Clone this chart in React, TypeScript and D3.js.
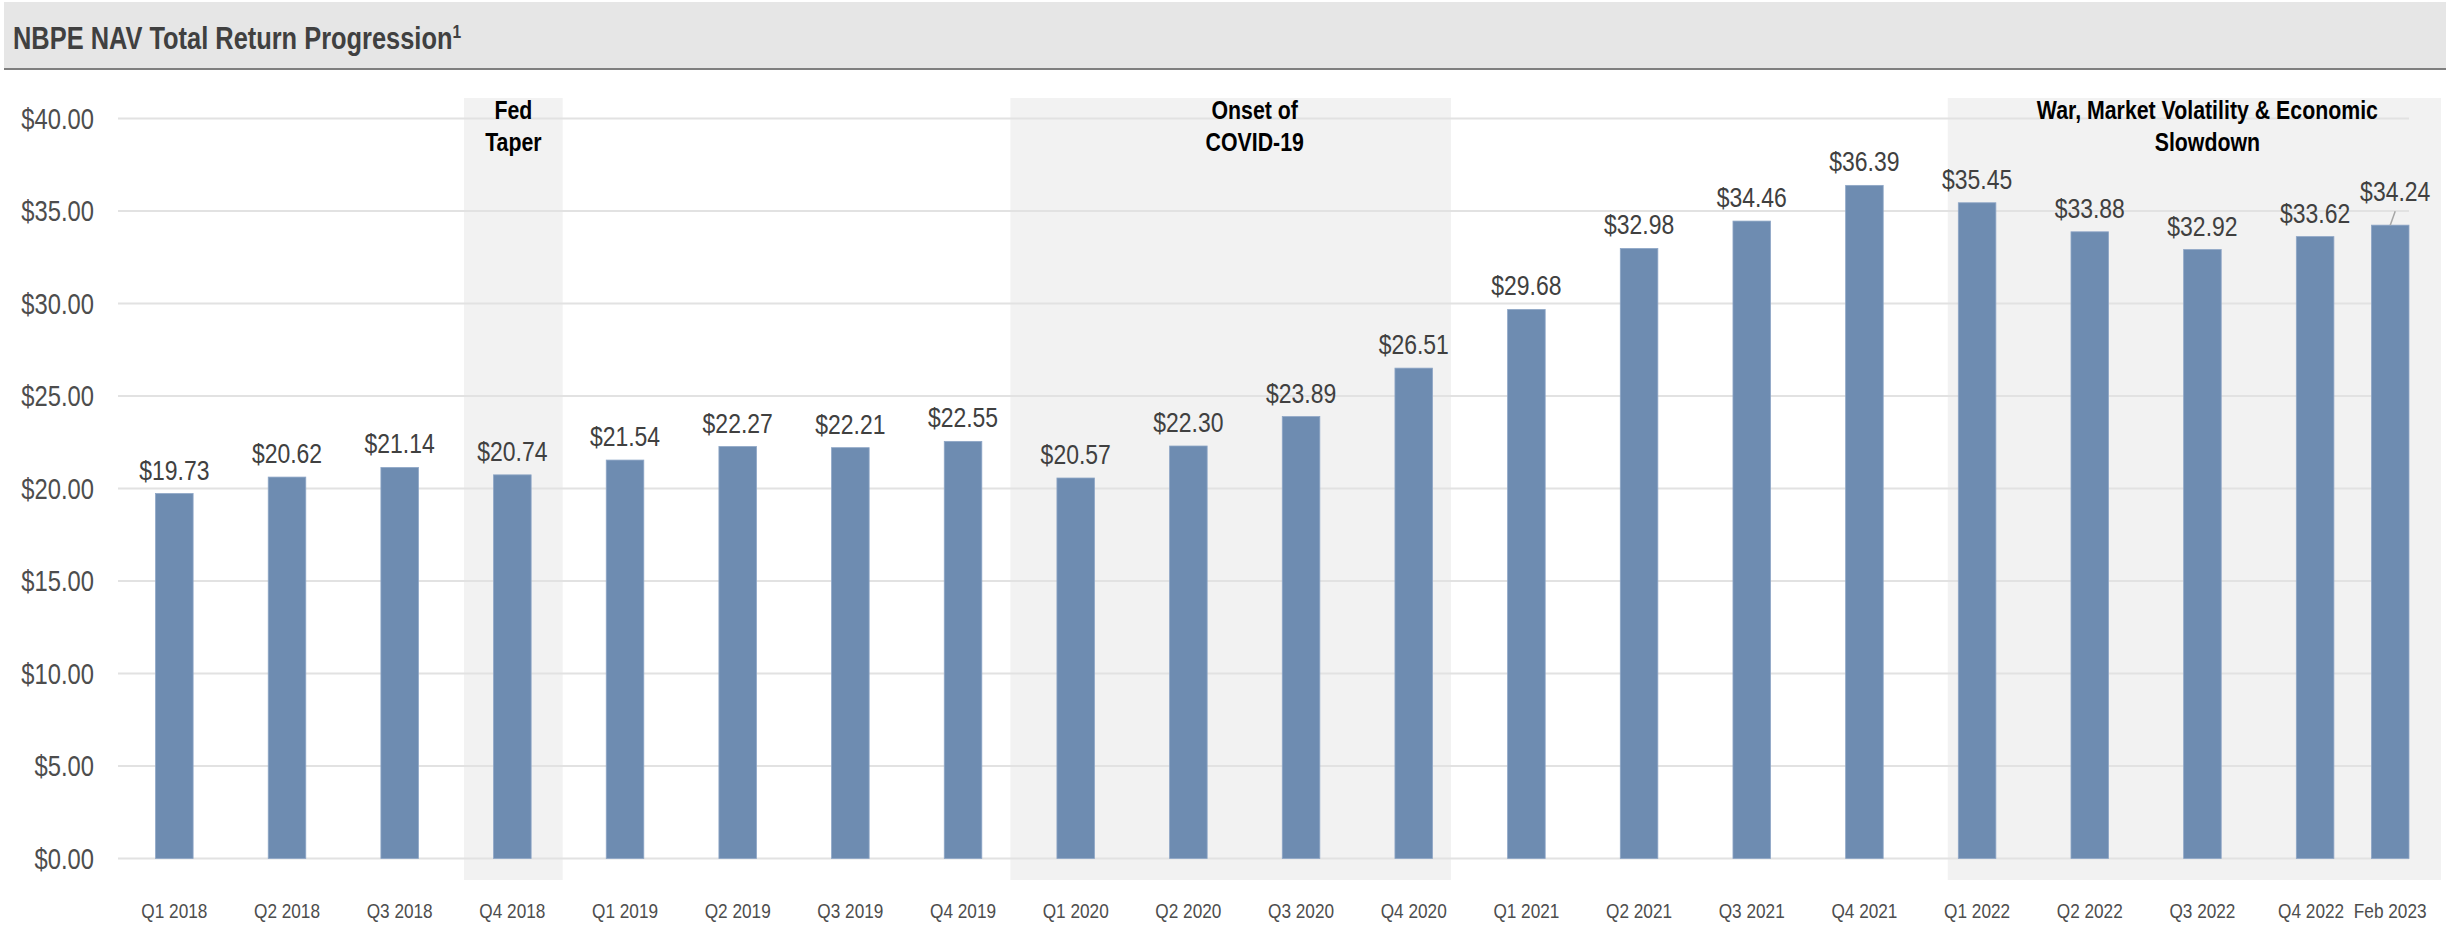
import React from "react";
import * as d3 from "d3";

const categories = [
  "Q1 2018", "Q2 2018", "Q3 2018", "Q4 2018",
  "Q1 2019", "Q2 2019", "Q3 2019", "Q4 2019",
  "Q1 2020", "Q2 2020", "Q3 2020", "Q4 2020",
  "Q1 2021", "Q2 2021", "Q3 2021", "Q4 2021",
  "Q1 2022", "Q2 2022", "Q3 2022", "Q4 2022",
  "Feb 2023",
];
const navValues = [
  19.73, 20.62, 21.14, 20.74,
  21.54, 22.27, 22.21, 22.55,
  20.57, 22.3, 23.89, 26.51,
  29.68, 32.98, 34.46, 36.39,
  35.45, 33.88, 32.92, 33.62,
  34.24,
];
const yTicks = [0, 5, 10, 15, 20, 25, 30, 35, 40];
const eventLines = [
  ["Fed", "Taper"],
  ["Onset of", "COVID-19"],
  ["War, Market Volatility & Economic", "Slowdown"],
];
const eventStart = ["Q4 2018", "Q1 2020", "Q1 2022"];
const eventEnd = ["Q4 2018", "Q4 2020", "Feb 2023"];
const titleText = "NBPE NAV Total Return Progression";

// layout
const W = 2446;
const H = 930;
const plotLeft = 118;
const plotRight = 2409;
const yTop = 118.6;
const yBottom = 858.5;
const barFrac = 1 / 3;
const nFull = categories.length - 1; // last category is a partial period
const shadeInsetL = [8, -9, 27];
const shadeInsetR = [-6, -19, 32];
const labelDx = [0, 24, 13];
const shadeTop = 98;
const shadeBottom = 880;

const FONT = "'Liberation Sans', Arial, sans-serif";
const NARROW_SCALE = 0.82;

type NTProps = {
  x: number;
  y: number;
  size: number;
  anchor?: "start" | "middle" | "end";
  bold?: boolean;
  fill: string;
  children: React.ReactNode;
};

function NText({ x, y, size, anchor = "start", bold = false, fill, children }: NTProps) {
  return (
    <text
      transform={`translate(${x},${y}) scale(${NARROW_SCALE},1)`}
      textAnchor={anchor}
      fontFamily={FONT}
      fontSize={size}
      fontWeight={bold ? "bold" : "normal"}
      fill={fill}
    >
      {children}
    </text>
  );
}

export default function App() {
  const x = d3.scaleLinear().domain([0, nFull + barFrac]).range([plotLeft, plotRight]);
  const step = x(1) - x(0);
  const barW = step * barFrac;
  const centerUnit = (i: number) => (i < nFull ? i + 0.5 : nFull + barFrac / 2);
  const cx = (i: number) => x(centerUnit(i));
  const bandStart = (i: number) => (i < nFull ? x(i) : x(nFull));
  const bandEnd = (i: number) => (i < nFull ? x(i + 1) : x(nFull + barFrac));
  const y = d3.scaleLinear().domain([0, 40]).range([yBottom, yTop]);
  const fmt = (v: number) => "$" + d3.format(".2f")(v);
  const last = navValues.length - 1;

  const shades = eventLines.map((lines, k) => {
    const i0 = categories.indexOf(eventStart[k]);
    const i1 = categories.indexOf(eventEnd[k]);
    const x0 = bandStart(i0) + shadeInsetL[k];
    const x1 = bandEnd(i1) + shadeInsetR[k];
    return { x0, x1, lines, mx: (x0 + x1) / 2 + labelDx[k] };
  });

  return (
    <svg width={W} height={H} style={{ position: "absolute", left: 0, top: 0, background: "#fff" }}>
      {/* title bar */}
      <rect x={4} y={2} width={W - 4} height={67} fill="#e6e6e6" />
      <line x1={4} x2={W} y1={69} y2={69} stroke="#7f7f7f" strokeWidth={2} />
      <NText x={13} y={49} size={31} bold fill="#404040">
        {titleText}
        <tspan fontSize={19} dy={-11}>1</tspan>
      </NText>

      {/* event shading */}
      {shades.map((s, k) => (
        <rect key={"s" + k} x={s.x0} y={shadeTop} width={s.x1 - s.x0} height={shadeBottom - shadeTop} fill="#f2f2f2" />
      ))}

      {/* gridlines */}
      {yTicks.map((t) => (
        <line key={"g" + t} x1={plotLeft} x2={plotRight} y1={y(t)} y2={y(t)} stroke="#e2e2e2" strokeWidth={2} />
      ))}

      {/* y labels */}
      {yTicks.map((t) => (
        <NText key={"y" + t} x={94} y={y(t) + 10} size={29} anchor="end" fill="#4d4d4d">
          {fmt(t)}
        </NText>
      ))}

      {/* event labels */}
      {shades.map((s, k) =>
        s.lines.map((ln, j) => (
          <NText key={"e" + k + j} x={s.mx} y={119 + j * 32} size={26} anchor="middle" bold fill="#000">
            {ln}
          </NText>
        ))
      )}

      {/* bars */}
      {navValues.map((v, i) => (
        <rect key={"b" + i} x={cx(i) - barW / 2} y={y(v)} width={barW} height={y(0) - y(v)} fill="#6e8cb1" stroke="#8ea6c6" strokeWidth={0.8} />
      ))}

      {/* data labels */}
      {navValues.map((v, i) => {
        const isLast = i === last;
        const lx = cx(i) + (isLast ? 5 : 0);
        const ly = y(v) - (isLast ? 24 : 14);
        return (
          <g key={"l" + i}>
            {isLast && (
              <line x1={cx(i) + 5} y1={ly + 10} x2={cx(i)} y2={y(v)} stroke="#a6a6a6" strokeWidth={1.5} />
            )}
            <NText x={lx} y={ly} size={28} anchor="middle" fill="#404040">
              {fmt(v)}
            </NText>
          </g>
        );
      })}

      {/* x labels */}
      {categories.map((c, i) => (
        <NText key={"x" + i} x={cx(i) - (i === last - 1 ? 4 : 0)} y={918} size={21} anchor="middle" fill="#4d4d4d">
          {c}
        </NText>
      ))}
    </svg>
  );
}
